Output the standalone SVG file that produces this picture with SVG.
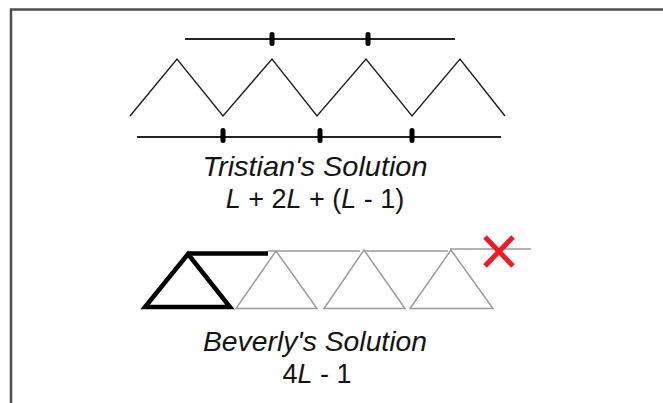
<svg xmlns="http://www.w3.org/2000/svg" width="663" height="403" viewBox="0 0 663 403">
  <style>
    .rule { stroke: #222; stroke-width: 2; fill: none; }
    .tick { fill: #000; }
    .zig { stroke: #1a1a1a; stroke-width: 1.4; fill: none; stroke-linejoin: miter; }
    .bold { stroke: #000; stroke-width: 4.5; fill: none; stroke-linejoin: miter; }
    .thin { stroke: #9a9a9a; stroke-width: 1.5; fill: none; }
    .cross { stroke: #ec1c24; stroke-width: 5; fill: none; }
    .title { font-family: "Liberation Sans", Arial, sans-serif; font-style: italic; font-size: 28px; fill: #141414; text-anchor: middle; }
    .formula { font-family: "Liberation Sans", Arial, sans-serif; font-size: 27px; fill: #141414; text-anchor: middle; }
    .it { font-style: italic; }
  </style>
  <rect width="663" height="403" fill="#fff"/>
  <path d="M11,403 V9.5 H663" fill="none" stroke="#4d4d4d" stroke-width="2.5"/>

  <g id="tristian-top-ruler">
    <line class="rule" x1="185" y1="39" x2="455" y2="39"/>
    <rect class="tick" x="269.5" y="32" width="5" height="14" rx="2.5"/>
    <rect class="tick" x="365.5" y="32" width="5" height="14" rx="2.5"/>
  </g>
  <g id="tristian-zigzag">
    <polyline class="zig" points="130,116 177,59 223,116 272,59 317,116 366,59 412,116 460,59 505,116"/>
  </g>
  <g id="tristian-bottom-ruler">
    <line class="rule" x1="137" y1="137" x2="501" y2="137"/>
    <rect class="tick" x="220.5" y="128" width="5" height="15" rx="2.5"/>
    <rect class="tick" x="317.5" y="128" width="5" height="15" rx="2.5"/>
    <rect class="tick" x="409.5" y="128" width="5" height="15" rx="2.5"/>
  </g>
  <g id="tristian-label">
    <text class="title" x="315" y="176" textLength="225" lengthAdjust="spacingAndGlyphs">Tristian's Solution</text>
    <text class="formula" x="315" y="208"><tspan class="it">L</tspan> + 2<tspan class="it">L</tspan> + (<tspan class="it">L</tspan> - 1)</text>
  </g>

  <g id="beverly-figure">
    <polyline class="thin" points="268,251 360,251"/>
    <polyline class="thin" points="364,251 448,251"/>
    <polyline class="thin" points="450,249 531,249"/>
    <polygon class="thin" points="276,251 236,308.5 317,308.5"/>
    <polygon class="thin" points="364,250 324,308.5 405,308.5"/>
    <polygon class="thin" points="451,250 410,308.5 493,308.5"/>
    <polygon class="bold" points="188,254 145,307 230,307"/>
    <line class="bold" x1="188" y1="253.5" x2="268" y2="253.5"/>
  </g>
  <g id="cross">
    <line class="cross" x1="485" y1="237" x2="513" y2="266"/>
    <line class="cross" x1="513" y1="237" x2="485" y2="266"/>
  </g>
  <g id="beverly-label">
    <text class="title" x="315" y="351" textLength="224" lengthAdjust="spacingAndGlyphs">Beverly's Solution</text>
    <text class="formula" x="317" y="383">4<tspan class="it">L</tspan> - 1</text>
  </g>
</svg>
